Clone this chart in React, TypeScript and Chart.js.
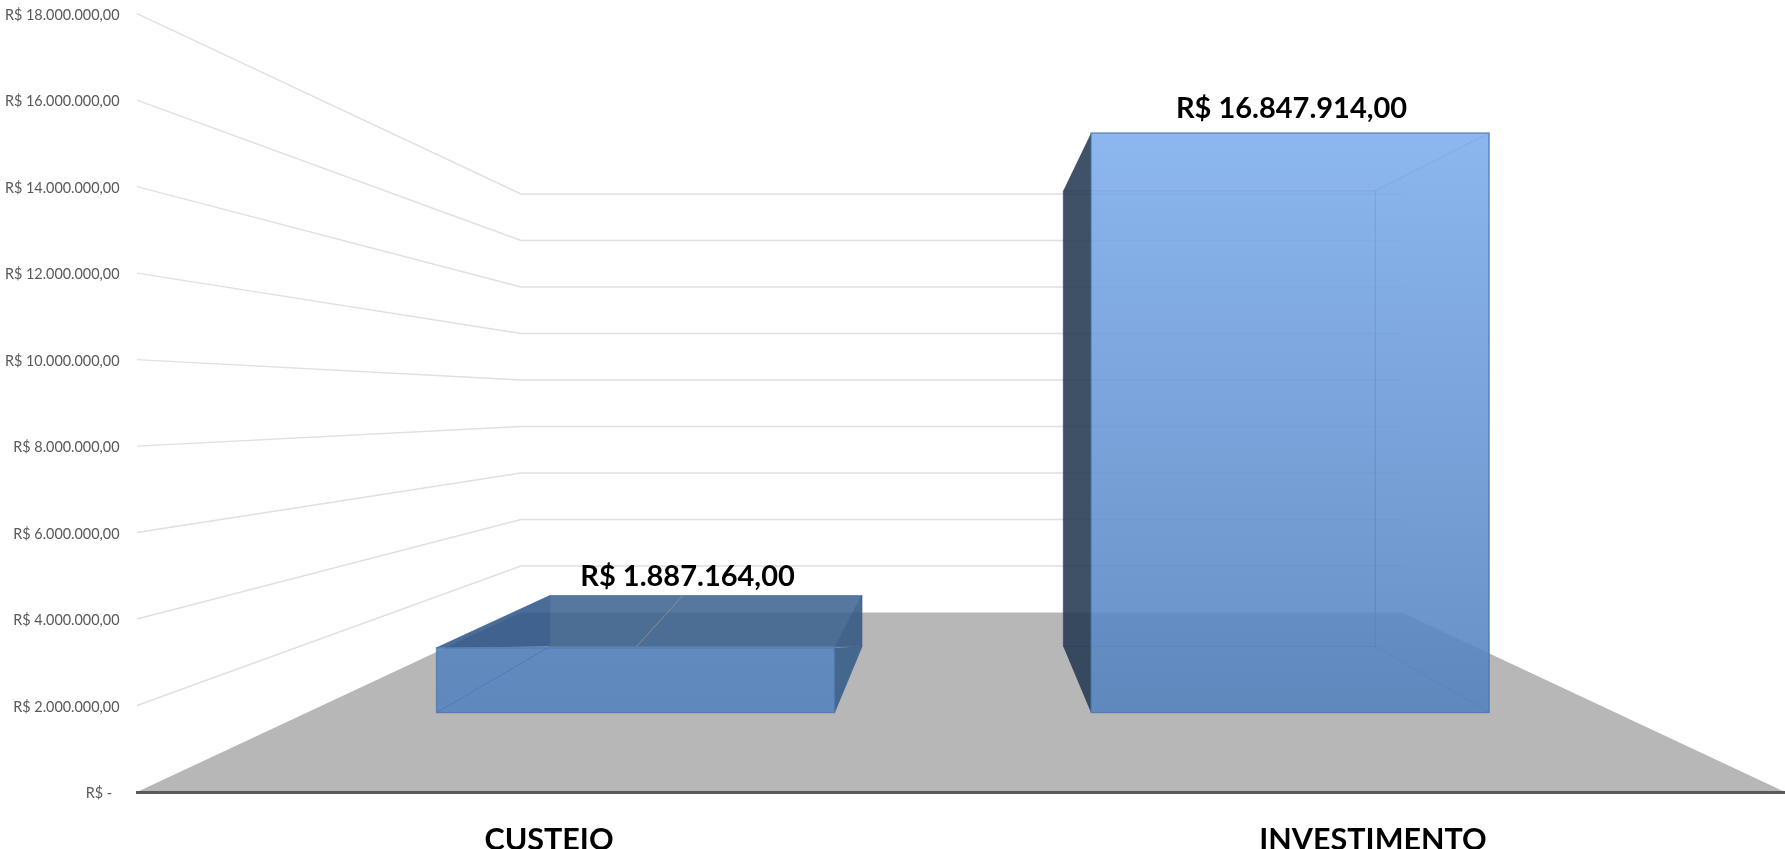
import React, { useEffect, useRef } from "react";
import { Chart, registerables } from "chart.js";

Chart.register(...registerables);

// ---- data ----
const categories = ["CUSTEIO", "INVESTIMENTO"];
const values = [1887164, 16847914];
const valueLabels = ["R$ 1.887.164,00", "R$ 16.847.914,00"];
const yTickValues = [0, 2000000, 4000000, 6000000, 8000000, 10000000, 12000000, 14000000, 16000000, 18000000];
const yTickLabels = [
  "R$ -\u00A0\u00A0",
  "R$ 2.000.000,00",
  "R$ 4.000.000,00",
  "R$ 6.000.000,00",
  "R$ 8.000.000,00",
  "R$ 10.000.000,00",
  "R$ 12.000.000,00",
  "R$ 14.000.000,00",
  "R$ 16.000.000,00",
  "R$ 18.000.000,00",
];

// ---- perspective of the 3D box, as fractions of the chart area ----
const BACK_LEFT = 0.233;
const BACK_RIGHT = 0.7676;
const BACK_BOTTOM = 0.2306; // how far the floor's back edge rises above the axis
const BACK_TOP_PX = 0.2316; // how far the wall's top sits below the front top
const NEAR = 0.442;
const FAR = 0.81;
const BAR_SHIFT = 0.0012;

const FONT = "Lato, Carlito, Calibri, sans-serif";

const labelOffsets = [
  { dx: 52, dy: -71 },
  { dx: 1.5, dy: -24.5 },
];

const box3d = {
  id: "box3d",
  beforeDraw(chart: any) {
    const { ctx, chartArea: a, scales } = chart;
    const y = scales.y;
    const W = a.right - a.left;
    const H = a.bottom - a.top;
    const bl = a.left + BACK_LEFT * W;
    const br = a.left + BACK_RIGHT * W;
    const by0 = a.bottom - BACK_BOTTOM * H;
    const by1 = a.top + BACK_TOP_PX * H;
    const backY = (v: number) => by0 - (v / y.max) * (by0 - by1);

    ctx.save();
    ctx.fillStyle = "#FFFFFF";
    ctx.fillRect(0, 0, chart.width, chart.height);
    // floor
    ctx.fillStyle = "#B7B7B7";
    ctx.beginPath();
    ctx.moveTo(a.left, a.bottom);
    ctx.lineTo(a.right, a.bottom);
    ctx.lineTo(br, by0);
    ctx.lineTo(bl, by0);
    ctx.closePath();
    ctx.fill();
    // wall grid
    ctx.lineWidth = 1.4;
    ctx.strokeStyle = "#E0E0E0";
    yTickValues.slice(1).forEach((v) => {
      ctx.beginPath();
      ctx.moveTo(a.left, y.getPixelForValue(v));
      ctx.lineTo(bl, backY(v));
      ctx.lineTo(br, backY(v));
      ctx.stroke();
    });
    ctx.restore();
  },
  afterDatasetsDraw(chart: any) {
    const { ctx, chartArea: a, scales } = chart;
    const W = a.right - a.left;
    const H = a.bottom - a.top;
    const yS = scales.y;
    const bl = a.left + BACK_LEFT * W;
    const br = a.left + BACK_RIGHT * W;
    const by0 = a.bottom - BACK_BOTTOM * H;
    const by1 = a.top + BACK_TOP_PX * H;
    const P = (xn: number, v: number, t: number): [number, number] => {
      const fx = a.left + xn * W;
      const bx = bl + xn * (br - bl);
      const fy = yS.getPixelForValue(v);
      const byy = by0 - (v / yS.max) * (by0 - by1);
      return [fx + (bx - fx) * t, fy + (byy - fy) * t];
    };
    const poly = (pts: [number, number][], fill?: any, stroke?: string, lw = 1) => {
      ctx.beginPath();
      pts.forEach((p, i) => (i ? ctx.lineTo(p[0], p[1]) : ctx.moveTo(p[0], p[1])));
      ctx.closePath();
      if (fill) {
        ctx.fillStyle = fill;
        ctx.fill();
      }
      if (stroke) {
        ctx.strokeStyle = stroke;
        ctx.lineWidth = lw;
        ctx.stroke();
      }
    };
    const seg = (p0: [number, number], p1: [number, number], stroke: string, lw = 1) => {
      ctx.beginPath();
      ctx.moveTo(p0[0], p0[1]);
      ctx.lineTo(p1[0], p1[1]);
      ctx.strokeStyle = stroke;
      ctx.lineWidth = lw;
      ctx.stroke();
    };
    const meta = chart.getDatasetMeta(0);
    ctx.save();
    meta.data.forEach((bar: any, i: number) => {
      const x0 = (bar.x - bar.width / 2 - a.left) / W + BAR_SHIFT;
      const x1 = (bar.x + bar.width / 2 - a.left) / W + BAR_SHIFT;
      const xc = (x0 + x1) / 2;
      const v = values[i];
      const line = "rgba(66,112,170,0.6)";
      const fbl = P(x0, 0, NEAR), fbr = P(x1, 0, NEAR), ftl = P(x0, v, NEAR), ftr = P(x1, v, NEAR);
      const bbl = P(x0, 0, FAR), bbr = P(x1, 0, FAR), btl = P(x0, v, FAR), btr = P(x1, v, FAR);
      if (i === 0) {
        // low bar seen from above: top, back and right faces show round the front
        poly([btl, btr, bbr, bbl], "rgba(58,98,143,0.86)", "rgba(60,100,150,0.6)", 1);
        poly([btl, ftl, bbl], "rgba(43,85,135,0.86)");
        poly([btr, ftr, bbr], "rgba(40,70,100,0.25)");
        poly([ftr, bbr, fbr], "rgba(50,90,135,0.86)");
        seg(btl, ftl, "rgba(60,100,150,0.7)");
        seg(btr, ftr, "rgba(60,100,150,0.7)");
        seg(bbr, fbr, "rgba(60,100,150,0.7)");
        // leader line from the label to the bar
        seg(P(xc, v, NEAR), P(xc - 0.0225, v, FAR), "#8A8A8A");
      } else {
        // tall bar seen from below: the dark left face shows, the rest lies behind the front
        poly([btl, btr, bbr, bbl], "rgba(60,110,175,0.06)", line, 1);
        poly([btl, ftl, fbl, bbl], "rgba(38,58,82,0.88)");
        poly([btr, ftr, fbr, bbr], "rgba(60,110,175,0.05)", line, 1);
      }
      // front face
      const g = ctx.createLinearGradient(0, ftl[1], 0, fbl[1]);
      if (i === 0) {
        g.addColorStop(0, "rgba(85,132,192,0.88)");
        g.addColorStop(1, "rgba(83,130,190,0.88)");
      } else {
        g.addColorStop(0, "rgba(125,173,236,0.88)");
        g.addColorStop(1, "rgba(83,130,190,0.88)");
      }
      poly([ftl, ftr, fbr, fbl], g, "rgba(70,115,170,0.7)", 1.4);
      if (i === 0) seg(fbl, bbl, "rgba(66,112,170,0.5)");
      // value label
      ctx.fillStyle = "#000000";
      ctx.font = `bold 29px ${FONT}`;
      ctx.textAlign = "center";
      ctx.textBaseline = "middle";
      const c = P(xc, v, NEAR);
      ctx.fillText(valueLabels[i], c[0] + labelOffsets[i].dx, c[1] + labelOffsets[i].dy);
    });
    ctx.restore();
  },
};

export default function App() {
  const ref = useRef<HTMLCanvasElement>(null);
  useEffect(() => {
    const chart = new Chart(ref.current!, {
      type: "bar",
      data: {
        labels: categories,
        datasets: [
          {
            label: "Valor",
            data: values,
            backgroundColor: "rgba(0,0,0,0)",
            borderWidth: 0,
            barPercentage: 0.608,
            categoryPercentage: 1,
          },
        ],
      },
      plugins: [box3d],
      options: {
        responsive: false,
        animation: false,
        layout: { padding: { top: 13.7, left: 0, right: 0, bottom: 0 } },
        plugins: { legend: { display: false }, title: { display: false }, tooltip: { enabled: false } },
        scales: {
          x: {
            grid: { display: false },
            border: { display: true, color: "#595959", width: 3 },
            ticks: {
              color: "#000000",
              font: { family: FONT, size: 30.5, weight: "bold" },
              padding: 22,
              maxRotation: 0,
              autoSkip: false,
            },
            afterFit(s: any) {
              s.height = 57;
              s.paddingLeft = 0;
              s.paddingRight = 0;
            },
          },
          y: {
            min: 0,
            max: 18000000,
            grid: { display: false },
            border: { display: false },
            afterBuildTicks(s: any) {
              s.ticks = yTickValues.map((value) => ({ value }));
            },
            ticks: {
              color: "#595959",
              font: { family: FONT, size: 14.4 },
              padding: 9.5,
              labelOffset: 1.5,
              callback: (_v: any, i: number) => yTickLabels[i],
            },
            afterFit(s: any) {
              s.width = 137;
              s.paddingTop = 0;
              s.paddingBottom = 0;
            },
          },
        },
      },
    } as any);
    return () => chart.destroy();
  }, []);
  return (
    <canvas
      ref={ref}
      width={1785}
      height={849}
      style={{ position: "absolute", left: 0, top: 0, display: "block" }}
    />
  );
}
